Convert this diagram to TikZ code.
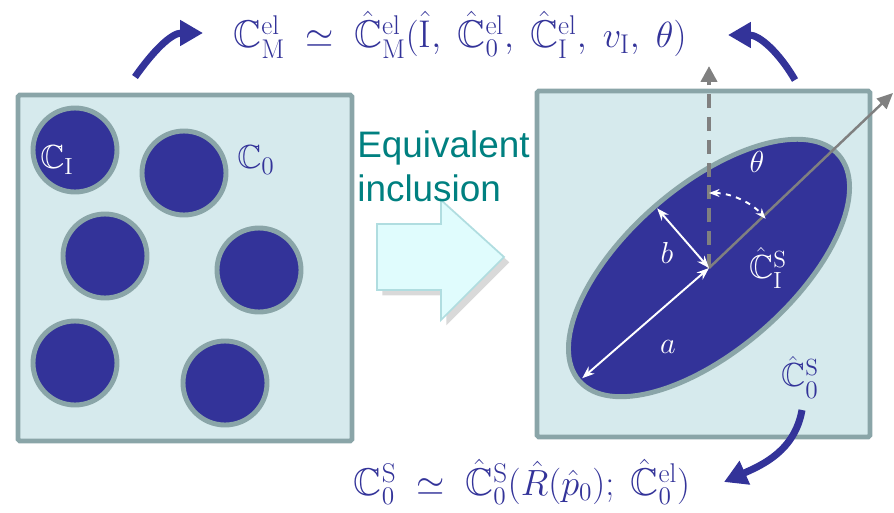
\documentclass[tikz,border=0pt]{standalone}
\usepackage{amssymb}
\usepackage{fontspec}
\newfontfamily\arialfont{Liberation Sans}
\usetikzlibrary{arrows.meta,calc,shadows}
\definecolor{incblue}{RGB}{51,51,153}
\definecolor{rimgray}{RGB}{138,165,168}
\definecolor{boxfill}{RGB}{214,234,237}
\definecolor{tealtext}{RGB}{0,128,128}
\definecolor{arrowfill}{RGB}{224,252,253}
\definecolor{arrowrim}{RGB}{176,221,224}
\definecolor{axisgray}{RGB}{128,128,128}
\begin{document}
\begin{tikzpicture}[x=0.02cm,y=0.02cm,
  matrixbox/.style={fill=boxfill,draw=rimgray,line width=2.8pt,rounded corners=1pt},
  grain/.style={fill=incblue,draw=rimgray,line width=2.8pt},
  curvedarrow/.style={draw=incblue,line width=4pt,-{Triangle[length=13pt,width=14pt]}},
  whitearrow/.style={white,line width=1.1pt,{Stealth[length=7pt]}-{Stealth[length=7pt]}},
  formula/.style={incblue,font=\fontsize{22}{26}\selectfont},
  biglabel/.style={font=\fontsize{19}{22}\selectfont}]
\useasboundingbox (0,0) rectangle (894,512);

% heterogeneous material
\draw[matrixbox] (18,71) rectangle (352,417);
\foreach \cx/\cy in {75/362,184/339,105/256,259/242,75/149,225/129}
  \draw[grain] (\cx,\cy) circle (42);
\node[biglabel,white] (ci) at (57,352) {$\mathbb{C}_{\mathrm{I}}$};
\node[biglabel,incblue] (c0) at (256,352) {$\mathbb{C}_{0}$};

% equivalent inclusion
\draw[matrixbox] (537,75) rectangle (870,421);
\coordinate (ctr) at (709,244);
\draw[grain,rotate around={41:(ctr)}] (ctr) ellipse[x radius=172,y radius=82];
\coordinate (uptip) at (709,446);
\coordinate (axtip) at (893,419);
\draw[axisgray,line width=2.5pt,dash pattern=on 8pt off 5pt,-{Triangle[length=9pt,width=9pt]}] (ctr) -- (uptip);
\draw[axisgray,line width=1.4pt,-{Triangle[length=9pt,width=8pt]}] (ctr) -- (axtip);
\draw[whitearrow] (ctr) -- ($(ctr)+(221:168)$);
\draw[whitearrow] ($(ctr)+(131:79)$) -- (ctr);
\draw[white,line width=1.1pt,dashed,{Stealth[length=6pt]}-{Stealth[length=6pt]}] ($(ctr)+(90:75)$) arc[start angle=90,end angle=41,radius=75];
\node[biglabel,white] (th) at (757,350) {$\theta$};
\node[biglabel,white] (lb) at (667,259) {$b$};
\node[biglabel,white] (la) at (668,165) {$a$};
\node[biglabel,white] (cis) at (768,244) {$\hat{\mathbb{C}}^{\mathrm{S}}_{\mathrm{I}}$};
\node[biglabel,incblue] (c0s) at (800,135) {$\hat{\mathbb{C}}^{\mathrm{S}}_{0}$};

% block arrow
\draw[fill=arrowfill,draw=arrowrim,line width=1pt,drop shadow={opacity=0.3,shadow xshift=3pt,shadow yshift=-3pt}]
  (377,222) -- (441,222) -- (441,192) -- (504,255) -- (441,312) -- (441,288) -- (377,288) -- cycle;
\node[anchor=north west,align=left,text=tealtext,font=\arialfont\fontsize{21}{25}\selectfont,inner sep=0pt] (eqtxt) at (357,382) {Equivalent\\inclusion};

% formulas
\node[formula] (top) at (460,477) {$\mathbb{C}^{\mathrm{el}}_{\mathrm{M}} \;\simeq\; \hat{\mathbb{C}}^{\mathrm{el}}_{\mathrm{M}}(\hat{\mathrm{I}},\; \hat{\mathbb{C}}^{\mathrm{el}}_{0},\; \hat{\mathbb{C}}^{\mathrm{el}}_{\mathrm{I}},\; v_{\mathrm{I}},\; \theta)$};
\node[formula] (bot) at (522,30) {$\mathbb{C}^{\mathrm{S}}_{0} \;\simeq\; \hat{\mathbb{C}}^{\mathrm{S}}_{0}(\hat{R}(\hat{p}_{0});\; \hat{\mathbb{C}}^{\mathrm{el}}_{0})$};

\coordinate (tlA) at (135,435);
\coordinate (tlB) at (203,479);
\coordinate (trA) at (795,432);
\coordinate (trB) at (728,477);
\coordinate (brA) at (802,102);
\coordinate (brB) at (724,30);
\draw[curvedarrow] (tlA) to[out=55,in=180] (tlB);
\draw[curvedarrow] (trA) to[out=120,in=0] (trB);
\draw[curvedarrow] (brA) to[out=-100,in=24] (brB);
\end{tikzpicture}
\end{document}
